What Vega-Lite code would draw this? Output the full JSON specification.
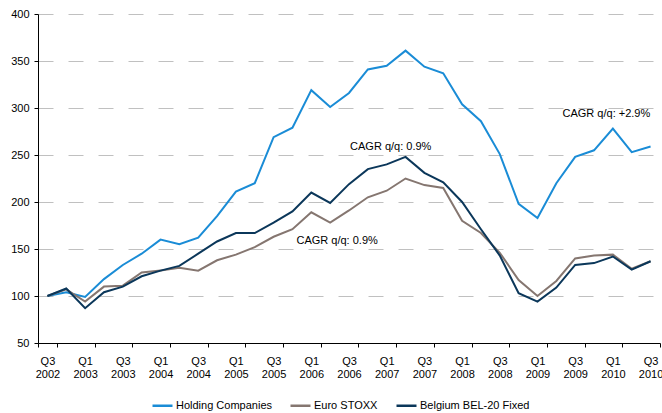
{
  "$schema": "https://vega.github.io/schema/vega-lite/v6.json",
  "width": 622,
  "height": 329,
  "autosize": {"type": "none"},
  "padding": {"left": 38, "top": 14, "right": 2, "bottom": 70},
  "background": "white",
  "config": {
    "view": {"stroke": null},
    "font": "Liberation Sans",
    "text": {"font": "Liberation Sans"}
  },
  "data": {
    "values": [
      {"q": "Q3 2002", "Holding Companies": 100, "Euro STOXX": 100, "Belgium BEL-20 Fixed": 100},
      {"q": "Q4 2002", "Holding Companies": 104, "Euro STOXX": 107, "Belgium BEL-20 Fixed": 108},
      {"q": "Q1 2003", "Holding Companies": 99, "Euro STOXX": 94, "Belgium BEL-20 Fixed": 87},
      {"q": "Q2 2003", "Holding Companies": 118, "Euro STOXX": 110, "Belgium BEL-20 Fixed": 104},
      {"q": "Q3 2003", "Holding Companies": 133, "Euro STOXX": 111, "Belgium BEL-20 Fixed": 110},
      {"q": "Q4 2003", "Holding Companies": 145, "Euro STOXX": 125, "Belgium BEL-20 Fixed": 121},
      {"q": "Q1 2004", "Holding Companies": 160, "Euro STOXX": 127, "Belgium BEL-20 Fixed": 127},
      {"q": "Q2 2004", "Holding Companies": 155, "Euro STOXX": 130, "Belgium BEL-20 Fixed": 132},
      {"q": "Q3 2004", "Holding Companies": 162, "Euro STOXX": 127, "Belgium BEL-20 Fixed": 145},
      {"q": "Q4 2004", "Holding Companies": 185, "Euro STOXX": 138, "Belgium BEL-20 Fixed": 158},
      {"q": "Q1 2005", "Holding Companies": 211, "Euro STOXX": 144, "Belgium BEL-20 Fixed": 167},
      {"q": "Q2 2005", "Holding Companies": 220, "Euro STOXX": 152, "Belgium BEL-20 Fixed": 167},
      {"q": "Q3 2005", "Holding Companies": 269, "Euro STOXX": 163, "Belgium BEL-20 Fixed": 178},
      {"q": "Q4 2005", "Holding Companies": 279, "Euro STOXX": 171, "Belgium BEL-20 Fixed": 190},
      {"q": "Q1 2006", "Holding Companies": 319, "Euro STOXX": 189, "Belgium BEL-20 Fixed": 210},
      {"q": "Q2 2006", "Holding Companies": 301, "Euro STOXX": 178, "Belgium BEL-20 Fixed": 199},
      {"q": "Q3 2006", "Holding Companies": 316, "Euro STOXX": 191, "Belgium BEL-20 Fixed": 219},
      {"q": "Q4 2006", "Holding Companies": 341, "Euro STOXX": 205, "Belgium BEL-20 Fixed": 235},
      {"q": "Q1 2007", "Holding Companies": 345, "Euro STOXX": 212, "Belgium BEL-20 Fixed": 240},
      {"q": "Q2 2007", "Holding Companies": 361, "Euro STOXX": 225, "Belgium BEL-20 Fixed": 248},
      {"q": "Q3 2007", "Holding Companies": 344, "Euro STOXX": 218, "Belgium BEL-20 Fixed": 231},
      {"q": "Q4 2007", "Holding Companies": 337, "Euro STOXX": 215, "Belgium BEL-20 Fixed": 221},
      {"q": "Q1 2008", "Holding Companies": 304, "Euro STOXX": 180, "Belgium BEL-20 Fixed": 200},
      {"q": "Q2 2008", "Holding Companies": 286, "Euro STOXX": 167, "Belgium BEL-20 Fixed": 171},
      {"q": "Q3 2008", "Holding Companies": 251, "Euro STOXX": 146, "Belgium BEL-20 Fixed": 143},
      {"q": "Q4 2008", "Holding Companies": 198, "Euro STOXX": 117, "Belgium BEL-20 Fixed": 103},
      {"q": "Q1 2009", "Holding Companies": 183, "Euro STOXX": 100, "Belgium BEL-20 Fixed": 94},
      {"q": "Q2 2009", "Holding Companies": 220, "Euro STOXX": 116, "Belgium BEL-20 Fixed": 109},
      {"q": "Q3 2009", "Holding Companies": 248, "Euro STOXX": 140, "Belgium BEL-20 Fixed": 133},
      {"q": "Q4 2009", "Holding Companies": 255, "Euro STOXX": 143, "Belgium BEL-20 Fixed": 135},
      {"q": "Q1 2010", "Holding Companies": 278, "Euro STOXX": 144, "Belgium BEL-20 Fixed": 142},
      {"q": "Q2 2010", "Holding Companies": 253, "Euro STOXX": 129, "Belgium BEL-20 Fixed": 128},
      {"q": "Q3 2010", "Holding Companies": 259, "Euro STOXX": 137, "Belgium BEL-20 Fixed": 137}
    ]
  },
  "layer": [
    {
      "transform": [
        {"fold": ["Holding Companies", "Euro STOXX", "Belgium BEL-20 Fixed"], "as": ["series", "value"]}
      ],
      "mark": {"type": "line", "strokeWidth": 2},
      "encoding": {
        "x": {
          "field": "q",
          "type": "ordinal",
          "sort": null,
          "scale": {"type": "band", "paddingInner": 0, "paddingOuter": 0},
          "axis": {
            "title": null,
            "values": ["Q3 2002", "Q1 2003", "Q3 2003", "Q1 2004", "Q3 2004", "Q1 2005", "Q3 2005", "Q1 2006", "Q3 2006", "Q1 2007", "Q3 2007", "Q1 2008", "Q3 2008", "Q1 2009", "Q3 2009", "Q1 2010", "Q3 2010"],
            "labelExpr": "split(datum.label, ' ')",
            "labelAngle": 0,
            "labelOverlap": false,
            "labelBound": false,
            "labelFlush": false,
            "labelFontSize": 11,
            "labelLineHeight": 13.5,
            "labelColor": "#000000",
            "labelPadding": 8,
            "tickBand": "extent",
            "tickSize": 4,
            "tickColor": "#000000",
            "domainColor": "#000000",
            "grid": false
          }
        },
        "y": {
          "field": "value",
          "type": "quantitative",
          "scale": {"domain": [50, 400], "nice": false, "zero": false},
          "axis": {
            "title": null,
            "values": [50, 100, 150, 200, 250, 300, 350, 400],
            "labelFontSize": 11,
            "labelColor": "#000000",
            "labelPadding": 5,
            "tickSize": 4,
            "tickColor": "#000000",
            "domainColor": "#000000",
            "grid": true,
            "gridDash": [15, 15],
            "gridColor": "#c0c0c0",
            "gridWidth": 1
          }
        },
        "color": {
          "field": "series",
          "type": "nominal",
          "scale": {
            "domain": ["Holding Companies", "Euro STOXX", "Belgium BEL-20 Fixed"],
            "range": ["#1a8cd6", "#857670", "#0b375a"]
          },
          "legend": {
            "title": null,
            "orient": "none",
            "legendX": 113,
            "legendY": 380,
            "direction": "horizontal",
            "symbolType": "stroke",
            "symbolStrokeWidth": 2.5,
            "symbolSize": 400,
            "labelFontSize": 11,
            "labelColor": "#000000",
            "labelOffset": 2,
            "columnPadding": 13
          }
        }
      }
    },
    {
      "data": {"values": [{"q": "Q1 2010", "y": 294, "label": "CAGR q/q: +2.9%"}]},
      "mark": {"type": "text", "fontSize": 11, "color": "#000000", "align": "center", "baseline": "middle", "dx": -6.5},
      "encoding": {
        "x": {"field": "q", "type": "ordinal", "sort": null},
        "y": {"field": "y", "type": "quantitative"},
        "text": {"field": "label"}
      }
    },
    {
      "data": {"values": [{"q": "Q1 2007", "y": 258, "label": "CAGR q/q: 0.9%"}]},
      "mark": {"type": "text", "fontSize": 11, "color": "#000000", "align": "center", "baseline": "middle", "dx": 4},
      "encoding": {
        "x": {"field": "q", "type": "ordinal", "sort": null},
        "y": {"field": "y", "type": "quantitative"},
        "text": {"field": "label"}
      }
    },
    {
      "data": {"values": [{"q": "Q2 2006", "y": 158.8, "label": "CAGR q/q: 0.9%"}]},
      "mark": {"type": "text", "fontSize": 11, "color": "#000000", "align": "center", "baseline": "middle", "dx": 7},
      "encoding": {
        "x": {"field": "q", "type": "ordinal", "sort": null},
        "y": {"field": "y", "type": "quantitative"},
        "text": {"field": "label"}
      }
    }
  ]
}
